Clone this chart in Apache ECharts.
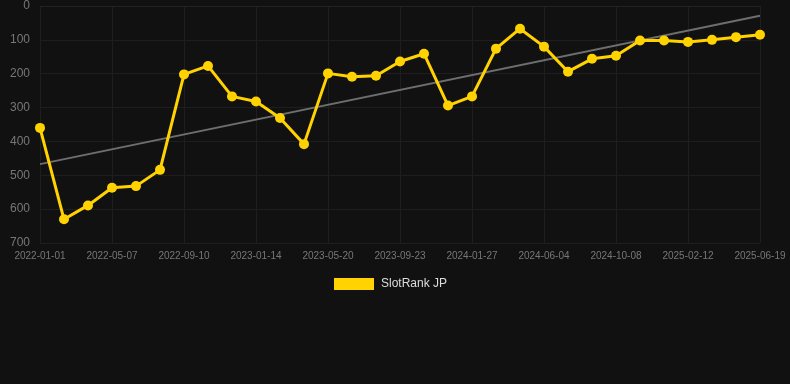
<!DOCTYPE html>
<html>
<head>
<meta charset="utf-8">
<script src="https://cdn.jsdelivr.net/npm/echarts@6/dist/echarts.min.js"></script>
<style>
html,body{margin:0;padding:0;background:#111111;}
#chart{width:790px;height:384px;}
</style>
</head>
<body>
<div id="chart"></div>
<script>
var categories = [
  '2022-01-01','2022-02-12','2022-03-26','2022-05-07','2022-06-18','2022-07-30',
  '2022-09-10','2022-10-22','2022-12-03','2023-01-14','2023-02-25','2023-04-08',
  '2023-05-20','2023-07-01','2023-08-12','2023-09-23','2023-11-04','2023-12-16',
  '2024-01-27','2024-03-10','2024-04-22','2024-06-04','2024-07-16','2024-08-27',
  '2024-10-08','2024-11-19','2024-12-31','2025-02-12','2025-03-26','2025-05-07',
  '2025-06-19'
];
var rankValues = [
  360, 630, 589, 537, 532, 484,
  202, 177, 267, 282, 331, 408,
  199, 209, 206, 164, 141, 294,
  267, 126, 67, 120, 194, 156,
  147, 102, 102, 106, 100, 92,
  85
];
var trendStart = 467;
var trendEnd = 29;
var yTicks = [0, 100, 200, 300, 400, 500, 600, 700];

var chart = echarts.init(document.getElementById('chart'), null, {renderer: 'canvas'});
chart.setOption({
  backgroundColor: '#111111',
  animation: false,
  grid: {left: 40, right: 30, top: 6, bottom: 141},
  legend: {
    data: ['SlotRank JP'],
    left: 329,
    top: 273,
    itemWidth: 40,
    itemHeight: 12,
    icon: 'rect',
    textStyle: {color: '#dddddd', fontSize: 12, padding: [0, 0, 0, 2], fontFamily: 'Liberation Sans, Arial, sans-serif'}
  },
  xAxis: {
    type: 'category',
    data: categories,
    boundaryGap: false,
    axisLine: {show: true, lineStyle: {color: '#222222'}},
    axisTick: {show: false},
    axisLabel: {interval: 2, color: '#777777', fontSize: 10, margin: 8, fontFamily: 'Liberation Sans, Arial, sans-serif'},
    splitLine: {show: true, interval: 2, lineStyle: {color: '#1e1e1e'}}
  },
  yAxis: {
    type: 'value',
    inverse: true,
    min: yTicks[0],
    max: yTicks[yTicks.length - 1],
    interval: 100,
    axisLine: {show: false},
    axisTick: {show: false},
    axisLabel: {color: '#777777', fontSize: 12, margin: 10, fontFamily: 'Liberation Sans, Arial, sans-serif'},
    splitLine: {show: true, lineStyle: {color: '#1e1e1e'}}
  },
  series: [
    {
      name: 'Trend',
      type: 'line',
      data: [[categories[0], trendStart], [categories[categories.length - 1], trendEnd]],
      symbol: 'none',
      lineStyle: {color: '#6e6e6e', width: 2},
      itemStyle: {color: '#6e6e6e'},
      z: 1,
      silent: true
    },
    {
      name: 'SlotRank JP',
      type: 'line',
      data: rankValues,
      symbol: 'circle',
      symbolSize: 10,
      lineStyle: {color: '#FFD200', width: 3},
      itemStyle: {color: '#FFD200'},
      z: 2
    }
  ]
});
</script>
</body>
</html>
